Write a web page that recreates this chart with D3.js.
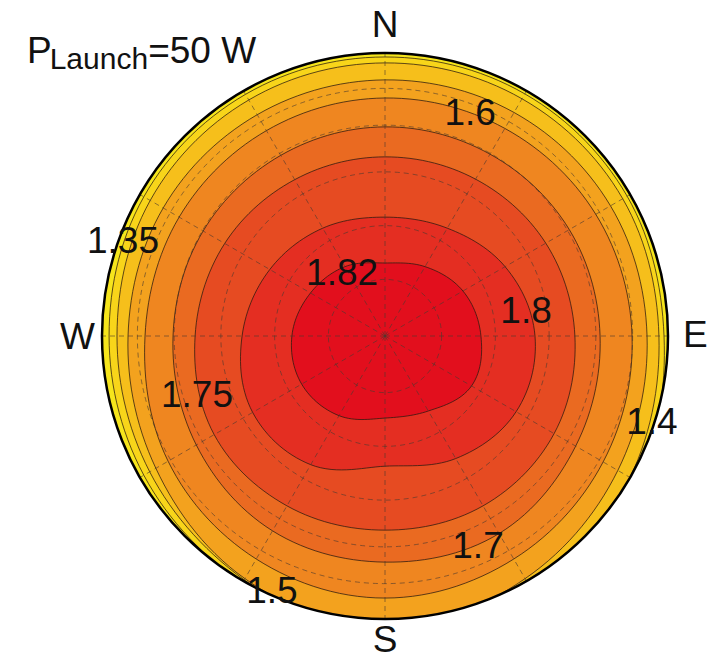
<!DOCTYPE html>
<html>
<head>
<meta charset="utf-8">
<script src="https://cdn.jsdelivr.net/npm/d3@7"></script>
<style>
  html, body { margin: 0; padding: 0; background: #fff; }
  svg { display: block; }
  text { font-family: "Liberation Sans", Arial, Helvetica, sans-serif; fill: #111; }
</style>
</head>
<body>
<svg id="chart" width="716" height="660"></svg>
<script>
// ---- data (compass azimuth in degrees, normalized radius 0..1) ----
const azimuths = [0, 30, 60, 90, 120, 150, 180, 210, 240, 270, 300, 330];
const levels = [1.35, 1.4, 1.5, 1.6, 1.7, 1.75, 1.8, 1.82];
const r135 = [0.986, 0.988, 0.988, 0.986, 1.03, 1.07, 1.08, 1.01, 0.984, 0.975, 0.984, 0.986];
const r140 = [0.965, 0.968, 0.970, 0.968, 1.00, 1.05, 1.07, 0.995, 0.960, 0.947, 0.958, 0.963];
const r150 = [0.905, 0.912, 0.920, 0.926, 0.950, 0.990, 1.03, 0.990, 0.935, 0.908, 0.905, 0.903];
const r160 = [0.841, 0.847, 0.860, 0.873, 0.890, 0.910, 0.926, 0.910, 0.885, 0.848, 0.840, 0.838];
const r170 = [0.739, 0.742, 0.752, 0.760, 0.778, 0.806, 0.799, 0.795, 0.770, 0.749, 0.742, 0.737];
const r175 = [0.633, 0.640, 0.656, 0.671, 0.690, 0.693, 0.686, 0.693, 0.697, 0.671, 0.654, 0.638];
const r180 = [0.420, 0.440, 0.490, 0.530, 0.535, 0.500, 0.460, 0.525, 0.540, 0.505, 0.470, 0.440];
const r182 = [0.258, 0.283, 0.318, 0.339, 0.353, 0.306, 0.290, 0.325, 0.340, 0.329, 0.304, 0.283];
const spokeAngles = [0, 30, 60, 90, 120, 150, 180, 210, 240, 270, 300, 330];
const ringRadii = [0.2, 0.39, 0.58, 0.745, 0.875];
const compass = [{t: "N", a: 0}, {t: "E", a: 90}, {t: "S", a: 180}, {t: "W", a: 270}];
const labelText = ["1.35", "1.4", "1.5", "1.6", "1.7", "1.75", "1.8", "1.82"];
const labelAz = [290.1, 107.7, 204.0, 20.8, 156.0, 252.9, 79.5, 326.1];
const labelR = [0.986, 0.990, 0.982, 0.847, 0.808, 0.695, 0.507, 0.272];
const title = {main: "P", sub: "Launch", rest: "=50 W"};

// ---- styles ----
const bandColors = ["#f6e51c", "#f8d51a", "#f6bf1b", "#f3a21e", "#ef8620", "#ea6a21", "#e64b22", "#e42e22", "#e20f1d"];

const svg = d3.select("#chart");
const cx = 385, cy = 336, R = 283;
const rScale = d3.scaleLinear().domain([0, 1]).range([0, R]);
const toRad = d => d * Math.PI / 180;

// smooth closed curve drawn in polar space (Catmull-Rom on r(azimuth))
function polarPath(rs) {
  const n = rs.length, step = 360 / n, out = [];
  for (let deg = 0; deg < 360; deg += 2) {
    const s = deg / step, j = Math.floor(s), t = s - j;
    const p0 = rs[(j - 1 + n) % n], p1 = rs[j % n], p2 = rs[(j + 1) % n], p3 = rs[(j + 2) % n];
    const r = 0.5 * (2 * p1 + (-p0 + p2) * t + (2 * p0 - 5 * p1 + 4 * p2 - p3) * t * t +
      (-p0 + 3 * p1 - 3 * p2 + p3) * t * t * t);
    out.push({a: deg, r: r});
  }
  return out;
}

const radii = [r135, r140, r150, r160, r170, r175, r180, r182];
const contours = levels.map((lv, i) => ({level: lv, pts: polarPath(radii[i])}));

svg.append("defs").append("clipPath").attr("id", "disk")
  .append("circle").attr("cx", 0).attr("cy", 0).attr("r", R);

const g = svg.append("g").attr("transform", `translate(${cx},${cy})`);
const plot = g.append("g").attr("clip-path", "url(#disk)");

const line = d3.lineRadial()
  .angle(d => toRad(d.a))
  .radius(d => rScale(d.r))
  .curve(d3.curveLinearClosed);

plot.append("circle").attr("r", R).attr("fill", bandColors[0]);

plot.selectAll("path.band").data(contours).join("path")
  .attr("class", "band")
  .attr("d", d => line(d.pts))
  .attr("fill", (d, i) => bandColors[i + 1]);

plot.selectAll("path.cline").data(contours).join("path")
  .attr("class", "cline")
  .attr("d", d => line(d.pts))
  .attr("fill", "none")
  .attr("stroke", "#2a1a10")
  .attr("stroke-opacity", 0.75)
  .attr("stroke-width", 1);

// grid
const grid = plot.append("g")
  .attr("stroke", "#4a3a30").attr("stroke-opacity", 0.6)
  .attr("stroke-width", 1).attr("stroke-dasharray", "5,4").attr("fill", "none");
grid.selectAll("line").data(spokeAngles).join("line")
  .attr("x1", 0).attr("y1", 0)
  .attr("x2", a => rScale(1) * Math.sin(toRad(a)))
  .attr("y2", a => -rScale(1) * Math.cos(toRad(a)));
grid.selectAll("circle").data(ringRadii).join("circle")
  .attr("r", d => rScale(d));

// border
g.append("circle").attr("r", R).attr("fill", "none")
  .attr("stroke", "#000").attr("stroke-width", 2.5);

// contour labels
g.selectAll("text.clabel").data(labelText).join("text")
  .attr("class", "clabel")
  .attr("x", (t, i) => rScale(labelR[i]) * Math.sin(toRad(labelAz[i])))
  .attr("y", (t, i) => -rScale(labelR[i]) * Math.cos(toRad(labelAz[i])))
  .attr("dy", "0.35em")
  .attr("text-anchor", "middle")
  .attr("font-size", 37)
  .text(t => t);

// compass labels
const compassPos = {
  N: {x: 0, y: -R - 16, anchor: "middle"},
  S: {x: 0, y: R + 33, anchor: "middle"},
  E: {x: R + 15, y: 11, anchor: "start"},
  W: {x: -R - 7, y: 13, anchor: "end"}
};
g.selectAll("text.compass").data(compass).join("text")
  .attr("class", "compass")
  .attr("x", d => compassPos[d.t].x)
  .attr("y", d => compassPos[d.t].y)
  .attr("text-anchor", d => compassPos[d.t].anchor)
  .attr("font-size", 37)
  .text(d => d.t);

// title
const tt = svg.append("text").attr("x", 27).attr("y", 63).attr("font-size", 37);
tt.append("tspan").text(title.main);
tt.append("tspan").attr("font-size", 30).attr("dy", 6).attr("dx", -2).text(title.sub);
tt.append("tspan").attr("dy", -6).text(title.rest);
</script>
</body>
</html>
